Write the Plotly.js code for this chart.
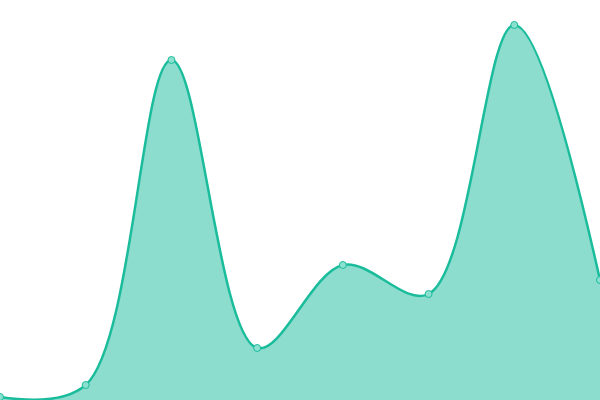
<!DOCTYPE html>
<html>
<head>
<meta charset="utf-8">
<script src="https://cdn.plot.ly/plotly-3.0.1.min.js"></script>
<style>
  html, body { margin: 0; padding: 0; background: #fff; }
  #chart { width: 600px; height: 400px; }
</style>
</head>
<body>
<div id="chart"></div>
<script>
  const xs = [0, 1, 2, 3, 4, 5, 6, 7];
  const values = [3, 15, 340, 52, 135, 106, 375, 120];

  const trace = {
    x: xs,
    y: values,
    type: 'scatter',
    mode: 'lines+markers',
    fill: 'tozeroy',
    fillcolor: 'rgba(26,188,156,0.5)',
    line: { color: '#1abc9c', width: 2.5, shape: 'spline', smoothing: 1 },
    marker: { size: 7, color: '#8be0cf', line: { color: '#1abc9c', width: 1 } },
    hoverinfo: 'none'
  };

  const layout = {
    width: 600,
    height: 400,
    margin: { t: 0, r: 0, b: 0, l: 0 },
    paper_bgcolor: '#fff',
    plot_bgcolor: '#fff',
    showlegend: false,
    xaxis: { range: [0, 7], visible: false, fixedrange: true },
    yaxis: { range: [0, 400], visible: false, fixedrange: true }
  };

  Plotly.newPlot('chart', [trace], layout, { displayModeBar: false, staticPlot: true });
</script>
</body>
</html>
